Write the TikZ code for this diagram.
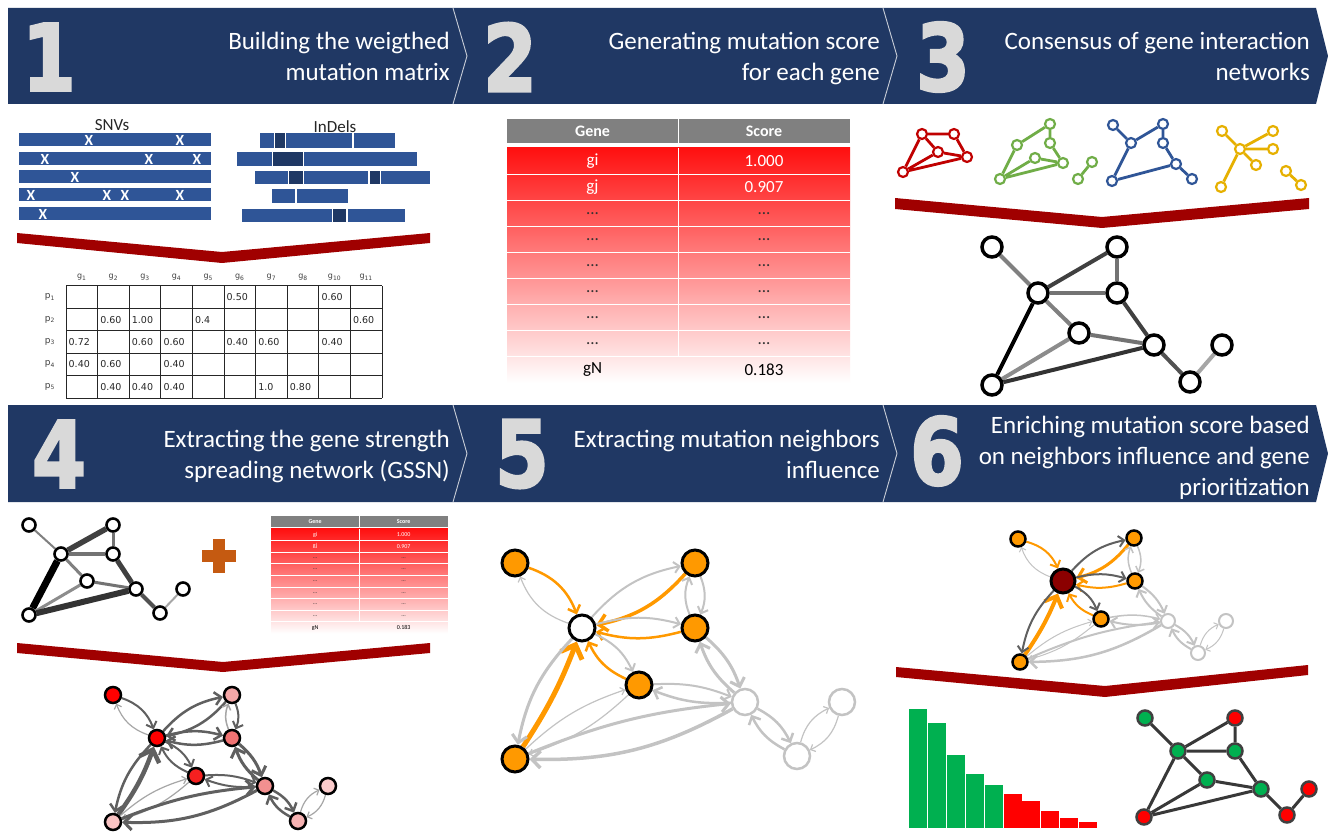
\documentclass[tikz,border=0pt]{standalone}
\usepackage{fontspec}
\setmainfont{Carlito}
\newfontfamily\digitfont{DejaVu Sans}[BoldFeatures={FakeBold=3}]
\newfontfamily\cellfont{DejaVu Sans}
\usetikzlibrary{arrows.meta}
\pgfdeclarelayer{bg}
\pgfdeclarelayer{edges}
\pgfsetlayers{bg,edges,main}

\definecolor{navy}{RGB}{32,56,100}
\definecolor{numgray}{RGB}{217,217,217}
\definecolor{divgray}{RGB}{200,205,215}
\definecolor{barblue}{RGB}{47,85,151}
\definecolor{bardark}{RGB}{31,56,100}
\definecolor{funnel}{RGB}{160,0,0}
\definecolor{tabred}{RGB}{255,16,16}
\definecolor{hdrgray}{RGB}{128,128,128}
\definecolor{netred}{RGB}{192,0,0}
\definecolor{netgreen}{RGB}{112,173,71}
\definecolor{netblue}{RGB}{47,85,151}
\definecolor{netyellow}{RGB}{230,176,0}
\definecolor{plusor}{RGB}{197,90,17}
\definecolor{nodeor}{RGB}{255,153,0}
\definecolor{lgray}{RGB}{195,195,195}
\definecolor{dgray}{RGB}{96,96,96}
\definecolor{mred}{RGB}{139,0,0}
\definecolor{bargreen}{RGB}{0,176,80}
\definecolor{barred}{RGB}{255,0,0}
\definecolor{sa}{RGB}{255,0,0}
\definecolor{sb}{RGB}{244,166,166}
\definecolor{sd}{RGB}{240,115,115}
\definecolor{se}{RGB}{245,32,32}
\definecolor{sf}{RGB}{242,144,144}
\definecolor{sg}{RGB}{251,203,203}
\definecolor{sh}{RGB}{249,195,195}
\definecolor{si}{RGB}{246,178,178}

% score table drawn in local coordinates (343 wide, 264 high)
\newcommand\scoretable[3]{%
  \fill[hdrgray] (0,0) rectangle (343,24);
  \draw[white,line width=0.8pt] (171,0) -- (171,24);
  \shade[top color=tabred,bottom color=white] (0,29) rectangle (343,264);
  \foreach \k in {1,...,8} \draw[white,line width=1pt] (0,{29+\k*26.11}) -- (343,{29+\k*26.11});
  \draw[white,line width=1pt] (171,29) -- (171,238);
  \node[font=#2,text=white] (#1-hg) at (85.5,12) {Gene};
  \node[font=#2,text=white] (#1-hs) at (257,12) {Score};
  \node[font=#3,text=white] (#1-g1) at (85.5,42) {gi};
  \node[font=#3,text=white] (#1-s1) at (257,42) {1.000};
  \node[font=#3,text=white] (#1-g2) at (85.5,68.2) {gj};
  \node[font=#3,text=white] (#1-s2) at (257,68.2) {0.907};
  \foreach \k in {3,...,8} {
    \node[font=#3,text=black!80] (#1-g\k) at (85.5,{29+(\k-0.5)*26.11}) {...};
    \node[font=#3,text=black!80] (#1-s\k) at (257,{29+(\k-0.5)*26.11}) {...};
  }
  \node[font=#3,text=black] (#1-g9) at (85.5,250.9) {gN};
  \node[font=#3,text=black] (#1-s9) at (257,250.9) {0.183};
}

\begin{document}
\begin{tikzpicture}[x=1pt,y=-1pt,
  bignum/.style={font=\digitfont\bfseries\fontsize{92}{92}\selectfont,text=numgray,inner sep=0pt,xscale=0.84},
  ttl/.style={anchor=base east,font=\fontsize{25}{28}\selectfont,text=white,inner sep=0pt},
  divline/.style={draw=divgray,line width=0.9pt},
  lbl/.style={font=\fontsize{17}{18}\selectfont,text=black!85,inner sep=0pt},
  xm/.style={font=\bfseries\fontsize{15.5}{15.5}\selectfont,text=white,inner sep=0pt},
  hdr/.style={font=\cellfont\fontsize{8}{8}\selectfont,text=black!75,inner sep=0pt},
  mcell/.style={anchor=west,font=\cellfont\fontsize{9.5}{10}\selectfont,text=black!85,inner sep=0pt},
  gridln/.style={draw=black!85,line width=1pt},
  sn/.style={circle,draw=#1,fill=white,line width=2.2pt,minimum size=10pt,inner sep=0pt},
  snedge/.style={draw=#1,line width=2.8pt},
  bn/.style={circle,draw=black,fill=white,line width=3.5pt,minimum size=20pt,inner sep=0pt},
  tn/.style={circle,draw=black,fill=white,line width=2.6pt,minimum size=13pt,inner sep=0pt},
  gnode/.style={circle,draw=black!75,fill=#1,line width=2.5pt,minimum size=15pt,inner sep=0pt},
  dn/.style={circle,draw=black,fill=#1,line width=2.5pt,minimum size=16pt,inner sep=0pt},
  onode/.style={circle,draw=black,fill=#1,line width=3pt,minimum size=26pt,inner sep=0pt},
  qnode/.style={circle,draw=lgray,fill=white,line width=2.5pt,minimum size=#1,inner sep=0pt},
  aor/.style={draw=nodeor,line width=#1,-{Straight Barb}},
  alg/.style={draw=lgray,line width=#1,-{Straight Barb}},
  adg/.style={draw=dgray,line width=#1,-{Straight Barb}},
  alt/.style={draw=black!35,line width=#1,-{Straight Barb}},
]
\useasboundingbox (0,0) rectangle (1328,834);
\begin{pgfonlayer}{bg}
\fill[white] (0,0) rectangle (1328,834);
\end{pgfonlayer}

% ---------- banners ----------
\fill[navy] (8,8) -- (1316,8) -- (1328,56) -- (1316,104) -- (8,104) -- cycle;
\draw[divline] (453,8) -- (467,56) -- (453,104);
\draw[divline] (883,8) -- (897,56) -- (883,104);
\fill[navy] (8,405) -- (1316,405) -- (1328,453.5) -- (1316,502) -- (8,502) -- cycle;
\draw[divline] (453,405) -- (467,453.5) -- (453,502);
\draw[divline] (883,405) -- (897,453.5) -- (883,502);

\node[bignum] (n1) at (49,57) {1};
\node[bignum] (n2) at (510,57) {2};
\node[bignum] (n3) at (943,57) {3};
\node[bignum] (n4) at (59,454) {4};
\node[bignum] (n5) at (522,454) {5};
\node[bignum] (n6) at (937,451) {6};

\node[ttl] (t1a) at (450,50) {Building the weigthed};
\node[ttl] (t1b) at (450,81) {mutation matrix};
\node[ttl] (t2a) at (880,50) {Generating mutation score};
\node[ttl] (t2b) at (880,81) {for each gene};
\node[ttl] (t3a) at (1310,50) {Consensus of gene interaction};
\node[ttl] (t3b) at (1310,81) {networks};
\node[ttl] (t4a) at (450,447) {Extracting the gene strength};
\node[ttl] (t4b) at (450,478) {spreading network (GSSN)};
\node[ttl] (t5a) at (880,447) {Extracting mutation neighbors};
\node[ttl] (t5b) at (880,478) {influence};
\node[ttl] (t6a) at (1310,433) {Enriching mutation score based};
\node[ttl] (t6b) at (1310,464) {on neighbors influence and gene};
\node[ttl] (t6c) at (1310,495) {prioritization};

% ---------- funnels ----------
\fill[funnel] (17,233) -- (222,252) -- (430,233) -- (430,243) -- (222,263) -- (17,243) -- cycle;
\fill[funnel] (895,198) -- (1102,217) -- (1309,198) -- (1309,209) -- (1102,228) -- (895,209) -- cycle;
\fill[funnel] (17,643) -- (223,662) -- (430,643) -- (430,653) -- (223,672) -- (17,653) -- cycle;
\fill[funnel] (896,667) -- (1105,686) -- (1308,665) -- (1308,675) -- (1105,697) -- (896,677) -- cycle;

% ---------- panel 1: variants ----------
\node[lbl] (snv) at (112,125) {SNVs};
\node[lbl] (indel) at (335,127) {InDels};
\foreach \y in {133,152,170,188,207} \fill[barblue] (19,\y) rectangle (211,{\y+13.5});
\foreach \x/\y [count=\n] in {89/140,180/140,45/159,149/159,197/159,75/177,31/195.5,107/195.5,125/195.5,180/195.5,43/214.5}
  \node[xm] (x\n) at (\x,\y) {X};
% indel rows
\fill[barblue] (260,133) rectangle (274,148); \fill[bardark] (275,133) rectangle (284.5,148);
\fill[barblue] (286,133) rectangle (352,148); \fill[barblue] (353.5,133) rectangle (395,148);
\fill[barblue] (237,152) rectangle (272,166); \fill[bardark] (273,152) rectangle (303,166);
\fill[barblue] (304,152) rectangle (417,166);
\fill[barblue] (255,171) rectangle (288,184); \fill[bardark] (289,171) rectangle (302.5,184);
\fill[barblue] (304,171) rectangle (368,184); \fill[bardark] (370,171) rectangle (380,184);
\fill[barblue] (381,171) rectangle (430,184);
\fill[barblue] (272,189) rectangle (295,203); \fill[barblue] (297,189) rectangle (348,203);
\fill[barblue] (242,209) rectangle (332,222); \fill[bardark] (333,209) rectangle (346,222);
\fill[barblue] (347.5,209) rectangle (405,222);

% mutation matrix
\foreach \i/\g in {1/1,2/2,3/3,4/4,5/5,6/6,7/7,8/8,9/10,10/11}
  \node[hdr] (gh\i) at ({50.2+\i*31.6},277) {g\textsubscript{\g}};
\foreach \j in {1,...,5}
  \node[hdr,font=\cellfont\fontsize{9}{9}\selectfont] (ph\j) at (50,{274.8+\j*22.4}) {p\textsubscript{\j}};
\foreach \i in {0,...,10} \draw[gridln] ({66+\i*31.6},286) -- ({66+\i*31.6},398);
\foreach \j in {0,...,5} \draw[gridln] (66,{286+\j*22.4}) -- (382,{286+\j*22.4});
\foreach \i/\j/\v in {6/1/0.50,9/1/0.60,
  2/2/0.60,3/2/1.00,5/2/0.4,10/2/0.60,
  1/3/0.72,3/3/0.60,4/3/0.60,6/3/0.40,7/3/0.60,9/3/0.40,
  1/4/0.40,2/4/0.60,4/4/0.40,
  2/5/0.40,3/5/0.40,4/5/0.40,7/5/1.0,8/5/0.80}
  \node[mcell] (v\i-\j) at ({66+(\i-1)*31.6+2.5},{274.8+\j*22.4}) {\v};

% ---------- panel 2: score table ----------
\begin{scope}[shift={(507,119)}]
\scoretable{tb}{\bfseries\fontsize{16}{16}\selectfont}{\fontsize{17}{17}\selectfont}
\end{scope}

% ---------- panel 3: input networks ----------
\node[sn=netred] (r1) at (922,134) {}; \node[sn=netred] (r2) at (954,134) {};
\node[sn=netred] (r3) at (938,152) {}; \node[sn=netred] (r4) at (967,157) {};
\node[sn=netred] (r5) at (903,172) {};
\node[sn=netgreen] (gr1) at (1050,124) {}; \node[sn=netgreen] (gr2) at (1050,143) {};
\node[sn=netgreen] (gr3) at (1017,145) {}; \node[sn=netgreen] (gr4) at (1035,158) {};
\node[sn=netgreen] (gr5) at (1063,163) {}; \node[sn=netgreen] (gr6) at (1000,179) {};
\node[sn=netgreen] (gr7) at (1092,162) {}; \node[sn=netgreen] (gr8) at (1078,179) {};
\node[sn=netblue] (bl1) at (1113,125) {}; \node[sn=netblue] (bl2) at (1163,124) {};
\node[sn=netblue] (bl3) at (1131,143) {}; \node[sn=netblue] (bl4) at (1163,143) {};
\node[sn=netblue] (bl5) at (1176,164) {}; \node[sn=netblue] (bl6) at (1192,179) {};
\node[sn=netblue] (bl7) at (1112,181) {};
\node[sn=netyellow] (ye0) at (1240,149) {}; \node[sn=netyellow] (ye1) at (1222,131) {};
\node[sn=netyellow] (ye2) at (1273,131) {}; \node[sn=netyellow] (ye3) at (1273,149) {};
\node[sn=netyellow] (ye4) at (1256,165) {}; \node[sn=netyellow] (ye5) at (1221,187) {};
\node[sn=netyellow] (ye6) at (1286,171) {}; \node[sn=netyellow] (ye7) at (1301,185) {};
\begin{pgfonlayer}{edges}
\draw[snedge=netred] (r1)--(r2) (r2)--(r4) (r4)--(r5) (r5)--(r1) (r1)--(r3) (r3)--(r4) (r3)--(r5);
\draw[snedge=netgreen] (gr1)--(gr3) (gr1)--(gr2) (gr2)--(gr5) (gr5)--(gr6) (gr3)--(gr6) (gr4)--(gr5) (gr4)--(gr6) (gr7)--(gr8);
\draw[snedge=netblue] (bl1)--(bl3) (bl3)--(bl2) (bl2)--(bl4) (bl4)--(bl5) (bl5)--(bl6) (bl5)--(bl7) (bl7)--(bl3);
\draw[snedge=netyellow] (ye0)--(ye1) (ye0)--(ye2) (ye0)--(ye3) (ye0)--(ye4) (ye0)--(ye5) (ye6)--(ye7);
\end{pgfonlayer}

% consensus network
\node[bn] (cA) at (992,247) {}; \node[bn] (cB) at (1117,247) {};
\node[bn] (cC) at (1038,293) {}; \node[bn] (cD) at (1117,293) {};
\node[bn] (cE) at (1079,333) {}; \node[bn] (cF) at (1154,345) {};
\node[bn] (cG) at (1222,345) {}; \node[bn] (cH) at (992,385) {};
\node[bn] (cI) at (1190,382) {};
\begin{pgfonlayer}{edges}
\draw[line width=4pt,black!50] (cA)--(cC);
\draw[line width=4pt,black!75] (cC)--(cB);
\draw[line width=4pt,black!55] (cB)--(cD);
\draw[line width=4pt,black!55] (cC)--(cD);
\draw[line width=4pt,black!50] (cC)--(cE);
\draw[line width=4pt,black] (cC)--(cH);
\draw[line width=4pt,black!55] (cE)--(cF);
\draw[line width=4pt,black!75] (cD)--(cF);
\draw[line width=4pt,black!45] (cE)--(cH);
\draw[line width=4pt,black!80] (cH)--(cF);
\draw[line width=4pt,black!68] (cF)--(cI);
\draw[line width=4pt,black!35] (cI)--(cG);
\end{pgfonlayer}

% ---------- panel 4: weighted network + scores ----------
\node[tn] (wA) at (29,525) {}; \node[tn] (wB) at (113,525) {};
\node[tn] (wC) at (61,554) {}; \node[tn] (wD) at (113,554) {};
\node[tn] (wE) at (87,581) {}; \node[tn] (wF) at (136,589) {};
\node[tn] (wG) at (183,589) {}; \node[tn] (wH) at (29,615) {};
\node[tn] (wI) at (160,613) {};
\begin{pgfonlayer}{edges}
\draw[line width=2pt,black!50] (wA)--(wC);
\draw[line width=5.5pt,black!75] (wC)--(wB);
\draw[line width=3pt,black!55] (wB)--(wD);
\draw[line width=3.5pt,black!55] (wC)--(wD);
\draw[line width=3pt,black!50] (wC)--(wE);
\draw[line width=7pt,black] (wC)--(wH);
\draw[line width=3pt,black!55] (wE)--(wF);
\draw[line width=5pt,black!75] (wD)--(wF);
\draw[line width=3pt,black!45] (wE)--(wH);
\draw[line width=6pt,black!80] (wH)--(wF);
\draw[line width=4pt,black!68] (wF)--(wI);
\draw[line width=2pt,black!35] (wI)--(wG);
\end{pgfonlayer}
\fill[plusor] (213,539) rectangle (225,573);
\fill[plusor] (202,550) rectangle (236,562);
\begin{scope}[shift={(271,516)},xscale=0.516,yscale=0.445]
\scoretable{sm}{\bfseries\fontsize{6}{6}\selectfont}{\fontsize{6}{6}\selectfont}
\end{scope}

% GSSN
\node[dn=sa] (qa) at (113,695) {};
\node[dn=sb] (qb) at (232,695) {};
\node[dn=sa] (qc) at (157,738) {};
\node[dn=sd] (qd) at (232,738) {};
\node[dn=se] (qe) at (196,776) {};
\node[dn=sf] (qf) at (265,786) {};
\node[dn=sg] (qg) at (328,786) {};
\node[dn=sh] (qh) at (113,822) {};
\node[dn=si] (qi) at (298,821) {};
\begin{pgfonlayer}{edges}
\draw[adg=2pt] (qa) to[bend left=25] (qc);   \draw[alt=1.2pt] (qc) to[bend left=25] (qa);
\draw[adg=2.5pt] (qb) to[bend left=18] (qc); \draw[adg=2.5pt] (qc) to[bend left=18] (qb);
\draw[alt=1.5pt] (qd) to[bend left=22] (qb); \draw[adg=2pt] (qb) to[bend left=22] (qd);
\draw[adg=2.5pt] (qd) to[bend left=15] (qc); \draw[adg=2.5pt] (qc) to[bend left=15] (qd);
\draw[adg=2pt] (qe) to[bend left=20] (qc);   \draw[adg=2pt] (qc) to[bend left=20] (qe);
\draw[adg=4.5pt] (qh) to[bend right=8] (qc); \draw[adg=2.5pt] (qc) to[bend right=16] (qh);
\draw[adg=3pt] (qd) to[bend left=15] (qf);   \draw[adg=3pt] (qf) to[bend left=15] (qd);
\draw[adg=2pt] (qf) to[bend left=12] (qe);   \draw[adg=2pt] (qe) to[bend left=12] (qf);
\draw[alt=1.2pt] (qh) to[bend left=12] (qe); \draw[alt=1.2pt] (qe) to[bend left=12] (qh);
\draw[adg=3pt] (qf) to[bend left=15] (qh);   \draw[adg=3pt] (qh) to[bend left=8] (qf);
\draw[adg=2.5pt] (qf) to[bend left=18] (qi); \draw[adg=2.5pt] (qi) to[bend left=18] (qf);
\draw[alt=1.2pt] (qi) to[bend left=25] (qg); \draw[alt=1.2pt] (qg) to[bend left=25] (qi);
\end{pgfonlayer}

% ---------- panel 5: neighbour influence ----------
\node[onode=nodeor] (pa) at (515,563) {};
\node[onode=nodeor] (pb) at (695,563) {};
\node[onode=white] (pc) at (582,628) {};
\node[onode=nodeor] (pd) at (695,628) {};
\node[onode=nodeor] (pe) at (639,685) {};
\node[qnode=26pt] (pf) at (745,702) {};
\node[qnode=26pt] (pg) at (842,702) {};
\node[onode=nodeor] (ph) at (515,759) {};
\node[qnode=26pt] (pi) at (797,756) {};
\begin{pgfonlayer}{edges}
\draw[aor=2.5pt] (pa) to[bend left=25] (pc);  \draw[alg=1.2pt] (pc) to[bend left=25] (pa);
\draw[aor=3.5pt] (pb) to[bend left=18] (pc);  \draw[alg=2pt] (pc) to[bend left=18] (pb);
\draw[alg=2pt] (pd) to[bend left=22] (pb);    \draw[alg=2pt] (pb) to[bend left=22] (pd);
\draw[aor=2.5pt] (pd) to[bend left=15] (pc);  \draw[alg=2pt] (pc) to[bend left=15] (pd);
\draw[aor=2.5pt] (pe) to[bend left=20] (pc);  \draw[alg=2pt] (pc) to[bend left=20] (pe);
\draw[aor=5pt] (ph) to[bend right=6] (pc);    \draw[alg=3pt] (pc) to[bend right=16] (ph);
\draw[alg=3pt] (pd) to[bend left=15] (pf);    \draw[alg=3pt] (pf) to[bend left=15] (pd);
\draw[alg=2.5pt] (pf) to[bend left=12] (pe);  \draw[alg=2pt] (pe) to[bend left=12] (pf);
\draw[alg=1.2pt] (ph) to[bend left=12] (pe);  \draw[alg=1.2pt] (pe) to[bend left=12] (ph);
\draw[alg=3.5pt] (pf) to[bend left=15] (ph);  \draw[alg=3pt] (ph) to[bend left=8] (pf);
\draw[alg=2.5pt] (pf) to[bend left=18] (pi);  \draw[alg=2.5pt] (pi) to[bend left=18] (pf);
\draw[alg=1.2pt] (pi) to[bend left=25] (pg);  \draw[alg=1.2pt] (pg) to[bend left=25] (pi);
\end{pgfonlayer}

% ---------- panel 6: enriched network, ranking, prioritised genes ----------
\node[dn=nodeor,minimum size=15pt] (ka) at (1018,539) {};
\node[dn=nodeor,minimum size=15pt] (kb) at (1134,538) {};
\node[dn=mred,line width=3pt,minimum size=24pt] (kc) at (1063,581) {};
\node[dn=nodeor,minimum size=15pt] (kd) at (1135,581) {};
\node[dn=nodeor,minimum size=15pt] (ke) at (1101,619) {};
\node[qnode=14pt,line width=2pt] (kf) at (1168,621) {};
\node[qnode=14pt,line width=2pt] (kg) at (1226,621) {};
\node[dn=nodeor,minimum size=15pt] (kh) at (1020,662) {};
\node[qnode=14pt,line width=2pt] (ki) at (1198,653) {};
\begin{pgfonlayer}{edges}
\draw[aor=2pt] (ka) to[bend left=25] (kc);    \draw[alg=1pt] (kc) to[bend left=25] (ka);
\draw[aor=3pt] (kb) to[bend left=18] (kc);    \draw[adg=2pt] (kc) to[bend left=18] (kb);
\draw[alg=1.5pt] (kd) to[bend left=22] (kb);  \draw[alg=1.5pt] (kb) to[bend left=22] (kd);
\draw[aor=2pt] (kd) to[bend left=15] (kc);    \draw[adg=2pt] (kc) to[bend left=15] (kd);
\draw[aor=2pt] (ke) to[bend left=20] (kc);    \draw[adg=2pt] (kc) to[bend left=20] (ke);
\draw[aor=4pt] (kh) to[bend right=6] (kc);    \draw[adg=2pt] (kc) to[bend right=16] (kh);
\draw[alg=2pt] (kd) to[bend left=15] (kf);    \draw[alg=2pt] (kf) to[bend left=15] (kd);
\draw[alg=2pt] (kf) to[bend left=12] (ke);    \draw[alg=1.5pt] (ke) to[bend left=12] (kf);
\draw[alg=1pt] (kh) to[bend left=12] (ke);    \draw[alg=1pt] (ke) to[bend left=12] (kh);
\draw[alg=2.5pt] (kf) to[bend left=15] (kh);  \draw[alg=2pt] (kh) to[bend left=8] (kf);
\draw[alg=2pt] (kf) to[bend left=18] (ki);    \draw[alg=2pt] (ki) to[bend left=18] (kf);
\draw[alg=1pt] (ki) to[bend left=25] (kg);    \draw[alg=1pt] (kg) to[bend left=25] (ki);
\end{pgfonlayer}

% ranking bars
\foreach \t/\c [count=\n from 0] in {709/bargreen,723/bargreen,755/bargreen,774/bargreen,785/bargreen,794/barred,801/barred,811/barred,818/barred,822/barred}
  \fill[\c] ({909+\n*18.9},\t) rectangle ({909+\n*18.9+18},828);

% prioritised network
\node[gnode=bargreen] (fA) at (1145,718) {}; \node[gnode=barred] (fB) at (1235,718) {};
\node[gnode=bargreen] (fC) at (1178,751) {}; \node[gnode=bargreen] (fD) at (1235,751) {};
\node[gnode=bargreen] (fE) at (1207,780) {}; \node[gnode=bargreen] (fF) at (1261,789) {};
\node[gnode=barred] (fG) at (1309,789) {};   \node[gnode=barred] (fH) at (1144,817) {};
\node[gnode=barred] (fI) at (1287,815) {};
\begin{pgfonlayer}{edges}
\draw[line width=3pt,black!78] (fA)--(fC) (fC)--(fB) (fB)--(fD) (fC)--(fD) (fC)--(fE) (fC)--(fH)
  (fE)--(fF) (fD)--(fF) (fE)--(fH) (fH)--(fF) (fF)--(fI) (fI)--(fG);
\end{pgfonlayer}
\end{tikzpicture}
\end{document}
